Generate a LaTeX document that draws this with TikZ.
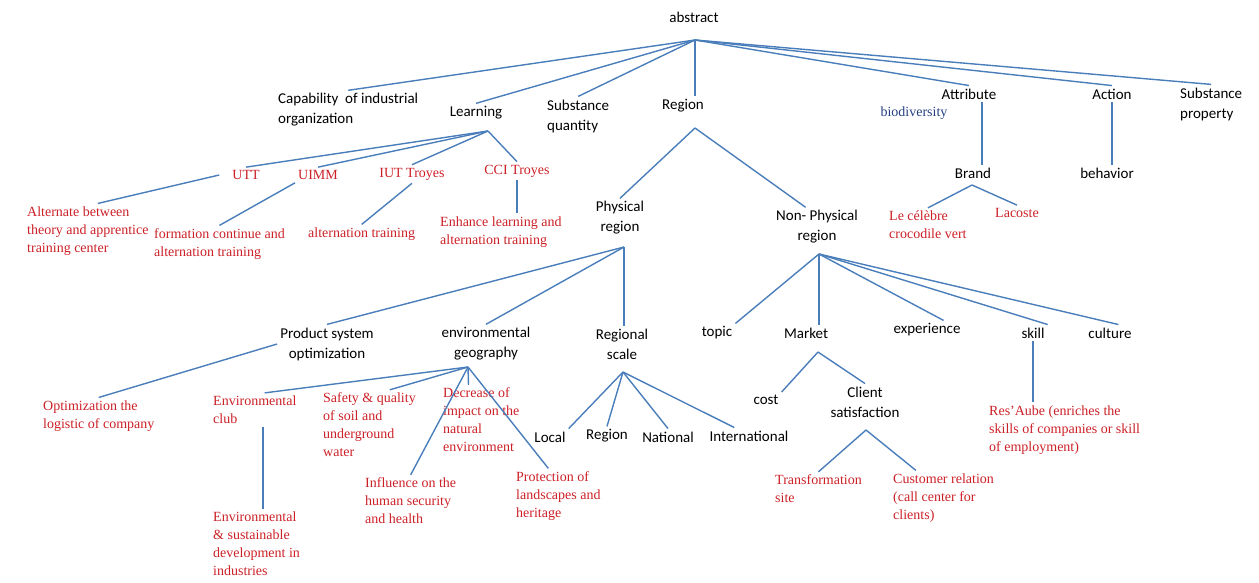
\documentclass[tikz,border=0pt]{standalone}
\usepackage{fontspec}
\setmainfont{Carlito}
\newfontfamily\tnr{Liberation Serif}
\usepackage{tikz}
\usetikzlibrary{positioning,calc}
\definecolor{lnblue}{RGB}{74,126,187}
\definecolor{exred}{RGB}{204,32,39}
\definecolor{biob}{RGB}{36,64,128}

\begin{document}
\begin{tikzpicture}[x=1pt,y=-1pt,
  lbl/.style={font=\fontsize{15}{20}\selectfont,align=center,inner sep=3pt},
  lbll/.style={lbl,align=left,anchor=west},
  ex/.style={font=\tnr\fontsize{14}{18}\selectfont,text=exred,align=left,anchor=west,inner sep=3pt},
  exc/.style={ex,anchor=center},
  ln/.style={draw=lnblue,line width=1.4pt}]
\useasboundingbox (0,0) rectangle (1259,582);
% concepts
\node[lbl] (tAbs) at (694,17) {abstract};
\node[lbll] (tCap) at (275,110) {Capability\ \ of industrial\\organization};
\node[lbl] (tLrn) at (476,113) {Learning};
\node[lbll] (tSubq) at (544,116) {Substance\\quantity};
\node[lbl] (tReg) at (683,106) {Region};
\node[lbl] (tAttr) at (969,94) {Attribute};
\node[font=\tnr\fontsize{14}{17}\selectfont,text=biob,inner sep=3pt] (tBio) at (914,113) {biodiversity};
\node[lbl] (tAct) at (1112,94) {Action};
\node[lbll] (tSubp) at (1177,104) {Substance\\property};
\node[lbl] (tBrand) at (973,173) {Brand};
\node[lbl] (tBeh) at (1107,173) {behavior};
\node[lbl] (tPhys) at (620,218) {Physical\\region};
\node[lbl] (tNonp) at (817,227) {Non- Physical\\region};
\node[lbl] (tPso) at (327,344) {Product system\\optimization};
\node[lbl] (tEnvg) at (486,344) {environmental\\geography};
\node[lbl] (tRsc) at (622,344) {Regional\\scale};
\node[lbl] (tLoc) at (550,437) {Local};
\node[lbl] (tRgn) at (607,436) {Region};
\node[lbl] (tNat) at (668,437) {National};
\node[lbl] (tInt) at (749,436) {International};
\node[lbl] (tTop) at (717,333) {topic};
\node[lbl] (tMkt) at (806,333) {Market};
\node[lbl] (tExp) at (927,330) {experience};
\node[lbl] (tSkl) at (1033,333) {skill};
\node[lbl] (tCul) at (1110,333) {culture};
\node[lbl] (tCost) at (766,400) {cost};
\node[lbl] (tCli) at (865,402) {Client\\satisfaction};
% examples
\node[exc] (tUtt) at (246,175) {UTT};
\node[exc] (tUimm) at (318,175) {UIMM};
\node[exc] (tIut) at (412,174) {IUT Troyes};
\node[exc] (tCci) at (517,171) {CCI Troyes};
\node[ex] (tAlt) at (24,231) {Alternate between\\theory and apprentice\\training center};
\node[ex] (tForm) at (151,244) {formation\ continue\ and\\alternation training};
\node[ex] (tAltt) at (305,234) {alternation training};
\node[ex] (tEnh) at (437,232) {Enhance learning and\\alternation training};
\node[ex] (tCroc) at (886,225) {Le célèbre\\crocodile vert};
\node[exc] (tLac) at (1017,213) {Lacoste};
\node[ex] (tOpt) at (40,416) {Optimization\ the\\logistic\ of company};
\node[ex] (tClub) at (210,410) {Environmental\\club};
\node[ex] (tSafe) at (320,425) {Safety \& quality\\of soil and\\underground\\water};
\node[ex] (tDecr) at (440,420) {Decrease of\\impact on the\\natural\\environment};
\node[ex] (tInfl) at (362,501) {Influence on the\\human security\\and health};
\node[ex] (tProt) at (513,496) {Protection\ of\\landscapes and\\heritage};
\node[ex] (tEsd) at (210,544) {Environmental\\\& sustainable\\development\ in\\industries};
\node[ex] (tTrans) at (772,489) {Transformation\\site};
\node[ex] (tCust) at (890,498) {Customer\ relation\\(call center for\\clients)};
\node[ex] (tRes) at (986,430) {Res’Aube\ (enriches the\\skills\ of companies or skill\\of employment)};
% junctions
\coordinate (hubAbs) at (695,40);
\coordinate (hubLrn) at (488,131);
\coordinate (hubReg) at (695,128);
\coordinate (hubPhys) at (624,247);
\coordinate (hubEnv) at (468,367);
\coordinate (hubRsc) at (623,372);
\coordinate (hubNonp) at (819,254);
\coordinate (hubMkt) at (818,352);
\coordinate (hubCli) at (866,430);
\coordinate (hubBrand) at (972,185);
% top level
\draw[ln] (hubAbs) -- (tCap.north);
\draw[ln] (hubAbs) -- (tLrn.north);
\draw[ln] (hubAbs) -- (tSubq.north);
\draw[ln] (hubAbs) -- (hubAbs |- tReg.north);
\draw[ln] (hubAbs) -- (tAttr.north);
\draw[ln] (hubAbs) -- (tAct.north);
\draw[ln] (hubAbs) -- (tSubp.north);
% learning
\draw[ln] (hubLrn) -- (tUtt.north);
\draw[ln] (hubLrn) -- (tUimm.north);
\draw[ln] (hubLrn) -- (tIut.north);
\draw[ln] (hubLrn) -- (tCci.north);
\draw[ln] ([xshift=-10pt]tUtt.west) -- ([xshift=10pt]tAlt.north);
\draw[ln] (tUimm.south west) -- (tForm.north);
\draw[ln] (tIut.south) -- (tAltt.north);
\draw[ln] (tCci.south) -- (tCci.south |- tEnh.north);
% attribute, action
\draw[ln] ([xshift=13pt]tAttr.south) -- ([xshift=9pt]tBrand.north);
\draw[ln] (hubBrand) -- (tCroc.north);
\draw[ln] (hubBrand) -- (tLac.north);
\draw[ln] (tAct.south) -- (tAct.south |- tBeh.north);
% region
\draw[ln] (hubReg) -- (tPhys.north);
\draw[ln] (hubReg) -- (tNonp.120);
\draw[ln] (hubPhys) -- (tPso.north);
\draw[ln] (hubPhys) -- (tEnvg.north);
\draw[ln] (hubPhys) -- (hubPhys |- tRsc.north);
\draw[ln] (tPso.west) -- (tOpt.north);
\draw[ln] (hubEnv) -- (tClub.60);
\draw[ln] (hubEnv) -- (tSafe.60);
\draw[ln] (hubEnv) -- (tDecr.110);
\draw[ln] (hubEnv) -- (tInfl.north);
\draw[ln] (hubEnv) -- (tProt.110);
\draw[ln] ([xshift=8pt]tClub.south) -- ([xshift=8pt]tClub.south |- tEsd.north);
\draw[ln] (hubRsc) -- (tLoc.north east);
\draw[ln] (hubRsc) -- (tRgn.north);
\draw[ln] (hubRsc) -- (tNat.north);
\draw[ln] (hubRsc) -- (tInt.150);
% non physical
\draw[ln] (hubNonp) -- (tTop.north east);
\draw[ln] (hubNonp) -- (hubNonp |- tMkt.north);
\draw[ln] (hubNonp) -- (tExp.30);
\draw[ln] (hubNonp) -- (tSkl.north east);
\draw[ln] (hubNonp) -- (tCul.45);
\draw[ln] (hubMkt) -- (tCost.north east);
\draw[ln] (hubMkt) -- (tCli.north);
\draw[ln] (hubCli) -- (tTrans.north);
\draw[ln] (hubCli) -- (tCust.135);
\draw[ln] (tSkl.south) -- (tSkl.south |- tRes.north);
\end{tikzpicture}
\end{document}
